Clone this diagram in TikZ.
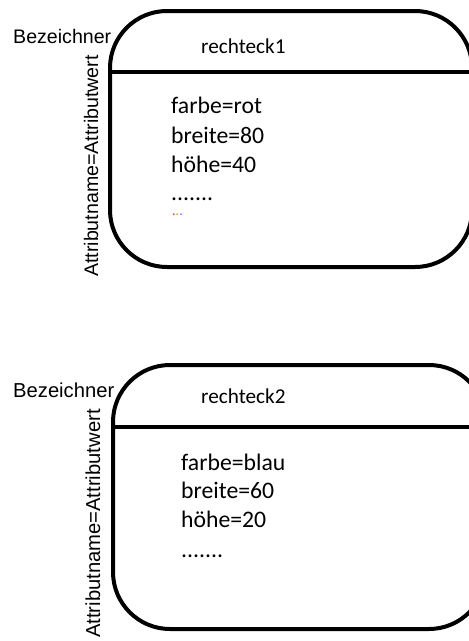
\documentclass[tikz,border=0pt]{standalone}
\usepackage{fontspec}
\setmainfont{Carlito}
\newfontfamily\arialfont{Liberation Sans}
\begin{document}
\begin{tikzpicture}[x=1pt,y=-1pt,
  objbox/.style={draw=black,line width=4pt,rounded corners=57pt,inner sep=0pt,outer sep=0pt},
  divider/.style={draw=black,line width=4.5pt},
  side/.style={inner sep=0pt,anchor=base west,font=\arialfont\fontsize{19.6}{22}\selectfont},
  sidebig/.style={inner sep=0pt,anchor=base west,font=\arialfont\fontsize{20.2}{22}\selectfont},
  title/.style={inner sep=0pt,anchor=base west,font=\fontsize{21.2}{24}\selectfont},
  attr/.style={inner sep=0pt,anchor=base west,font=\fontsize{23.7}{28}\selectfont}]
\useasboundingbox (0,0) rectangle (469,641);
\clip (0,0) rectangle (469,641);
% box 1
\node[objbox,minimum width=362pt,minimum height=256pt] (box1) at (291,139) {};
\coordinate (d1) at (0,72);
\draw[divider] (box1.west |- d1) -- (box1.east |- d1);
\node[side] (bez1) at (13,43) {Bezeichner};
\node[side,rotate=90] (att1) at (98,277) {Attributname=Attributwert};
\node[title] (name1) at (201,53) {rechteck1};
\node[attr] (a11) at (171,113) {farbe=rot};
\node[attr] (a12) at (171,143) {breite=80};
\node[attr] (a13) at (171,172) {höhe=40};
\node[attr] (a14) at (171,200) {.......};
\node[inner sep=0pt,anchor=base west,font=\fontsize{14}{16}\selectfont] (a15) at (172,215)
  {\textcolor{red!60!orange}{.}\textcolor{orange}{.}\textcolor{blue!60}{.}};
% box 2
\node[objbox,minimum width=373pt,minimum height=264pt] (box2) at (299.5,497) {};
\coordinate (d2) at (0,427);
\draw[divider] (box2.west |- d2) -- (box2.east |- d2);
\node[sidebig] (bez2) at (13,397) {Bezeichner};
\node[sidebig,rotate=90] (att2) at (100,638) {Attributname=Attributwert};
\node[title] (name2) at (201,403) {rechteck2};
\node[attr] (a21) at (181,470) {farbe=blau};
\node[attr] (a22) at (181,498.5) {breite=60};
\node[attr] (a23) at (181,527) {höhe=20};
\node[attr] (a24) at (181,557) {.......};
\end{tikzpicture}
\end{document}
